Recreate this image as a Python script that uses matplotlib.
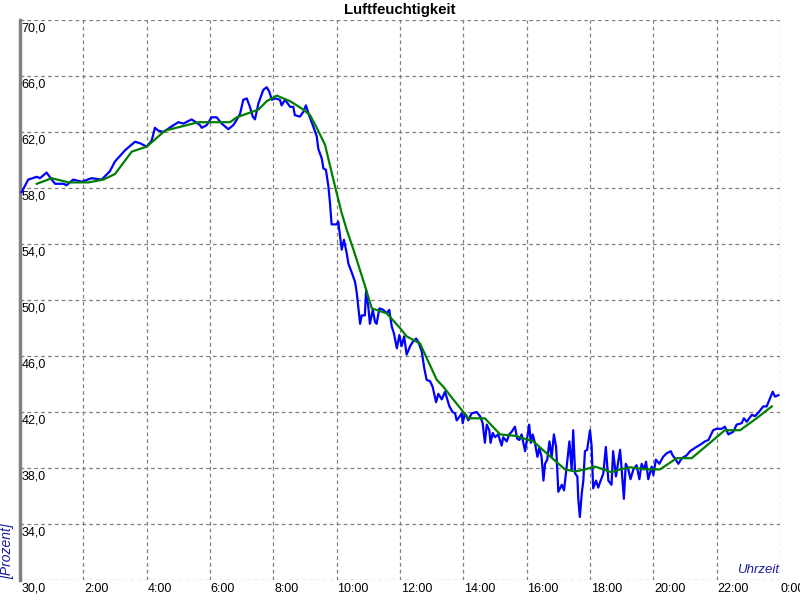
import matplotlib
matplotlib.use("Agg")
import matplotlib.pyplot as plt

title = "Luftfeuchtigkeit"
y_label = "[Prozent]"
x_label = "Uhrzeit"
y_ticks = [30, 34, 38, 42, 46, 50, 54, 58, 62, 66, 70]
x_ticks = [2, 4, 6, 8, 10, 12, 14, 16, 18, 20, 22, 24]
x_ticklabels = ["2:00", "4:00", "6:00", "8:00", "10:00", "12:00", "14:00",
                "16:00", "18:00", "20:00", "22:00", "0:00"]

# measured humidity (hours, percent)
raw_t = [0.05, 0.26, 0.53, 0.63, 0.84, 1.00, 1.11, 1.37, 1.47, 1.68, 1.95, 2.26, 2.58, 2.84, 3.00,
         3.32, 3.63, 3.79, 4.00, 4.16, 4.26, 4.37, 4.53, 4.79, 5.00, 5.16, 5.42, 5.68, 5.74, 5.90,
         6.05, 6.21, 6.37, 6.58, 6.74, 6.85, 6.95, 7.05, 7.16, 7.26, 7.35, 7.42, 7.53, 7.68, 7.79,
         7.87, 7.95, 8.05, 8.21, 8.26, 8.37, 8.53, 8.63, 8.68, 8.84, 8.95, 9.03, 9.07, 9.16, 9.26,
         9.37, 9.42, 9.53, 9.58, 9.66, 9.74, 9.79, 9.84, 10.00, 10.05, 10.16, 10.23, 10.32, 10.37,
         10.47, 10.58, 10.63, 10.74, 10.79, 10.89, 10.93, 11.00, 11.05, 11.14, 11.21, 11.26, 11.35,
         11.47, 11.58, 11.66, 11.74, 11.81, 11.90, 11.98, 12.05, 12.13, 12.21, 12.32, 12.40, 12.51,
         12.58, 12.69, 12.76, 12.84, 12.95, 13.03, 13.14, 13.21, 13.32, 13.42, 13.56, 13.66, 13.74,
         13.79, 13.89, 13.95, 13.98, 14.05, 14.16, 14.26, 14.42, 14.53, 14.61, 14.68, 14.74, 14.82,
         14.86, 14.93, 15.00, 15.10, 15.21, 15.26, 15.37, 15.45, 15.53, 15.63, 15.70, 15.77, 15.84,
         15.95, 16.00, 16.08, 16.13, 16.19, 16.26, 16.34, 16.40, 16.47, 16.53, 16.58, 16.65, 16.72,
         16.79, 16.86, 16.93, 17.00, 17.11, 17.18, 17.24, 17.28, 17.35, 17.42, 17.47, 17.53, 17.60,
         17.63, 17.68, 17.74, 17.79, 17.84, 17.91, 18.00, 18.05, 18.10, 18.19, 18.26, 18.32, 18.42,
         18.50, 18.58, 18.68, 18.73, 18.82, 18.95, 19.00, 19.07, 19.13, 19.21, 19.28, 19.37, 19.47,
         19.56, 19.63, 19.71, 19.77, 19.84, 19.95, 20.00, 20.08, 20.19, 20.31, 20.42, 20.55, 20.61,
         20.68, 20.79, 20.90, 21.05, 21.16, 21.32, 21.47, 21.63, 21.74, 21.89, 22.00, 22.16, 22.26,
         22.37, 22.53, 22.63, 22.79, 22.86, 22.95, 23.11, 23.21, 23.37, 23.47, 23.58, 23.68, 23.77,
         23.84, 23.95]
raw_v = [57.7, 58.6, 58.8, 58.7, 59.1, 58.6, 58.3, 58.3, 58.2, 58.6, 58.45, 58.7, 58.6, 59.2, 59.9,
         60.7, 61.3, 61.2, 60.95, 61.4, 62.3, 62.1, 62.0, 62.4, 62.7, 62.6, 62.9, 62.5, 62.3, 62.5,
         63.05, 63.05, 62.6, 62.2, 62.5, 62.9, 63.3, 64.3, 64.4, 63.8, 63.1, 62.9, 64.05, 65.0, 65.2,
         64.9, 64.3, 64.4, 64.3, 63.9, 64.3, 63.8, 63.8, 63.2, 63.1, 63.45, 63.9, 63.6, 63.0, 62.4,
         61.7, 60.8, 60.1, 59.4, 59.3, 58.1, 56.9, 55.4, 55.4, 55.6, 53.6, 54.3, 53.3, 52.6,
         52.0, 51.3, 50.6, 48.3, 48.9, 48.9, 50.7, 49.5, 48.3, 49.3, 48.45, 48.3, 49.4,
         49.3, 49.05, 49.3, 48.1, 47.6, 46.55, 47.5, 46.7, 47.4, 46.1, 46.7, 47.0, 47.25,
         47.0, 46.3, 45.2, 44.3, 44.2, 43.8, 42.7, 43.3, 42.9, 43.45, 42.4, 42.0, 41.9,
         41.4, 41.7, 41.9, 41.2, 41.9, 41.4, 41.9, 42.0, 41.7, 41.2, 39.8, 41.1, 40.7,
         39.8, 40.5, 40.2, 40.4, 39.6, 40.2, 39.9, 40.4, 40.6, 40.95, 40.1, 40.0, 40.4,
         39.2, 39.9, 41.1, 39.8, 40.4, 39.8, 38.8, 39.45, 38.8, 37.1, 38.3, 38.6, 39.9,
         38.8, 40.4, 39.5, 36.3, 36.8, 36.4, 37.6, 38.45, 39.9, 37.9, 40.7, 37.6, 37.4,
         35.8, 34.5, 36.2, 37.1, 39.2, 39.3, 40.7, 39.6, 36.55, 37.1, 36.6, 37.0, 37.6,
         39.5, 37.1, 36.8, 39.2, 37.4, 39.3, 37.9, 35.8, 38.3, 37.9, 37.2, 37.9, 38.2,
         37.2, 38.3, 37.9, 38.45, 37.2, 38.1, 37.5, 38.6, 38.3, 38.8, 39.05, 39.2, 38.9,
         38.7, 38.3, 38.7, 38.9, 39.2, 39.45, 39.65, 39.9, 40.0, 40.7, 40.8, 40.8, 40.95,
         40.4, 40.6, 41.1, 41.2, 41.55, 41.3, 41.8, 41.7, 42.1, 42.4, 42.4, 42.96, 43.45,
         43.1, 43.2]

# smoothed humidity (hours, percent)
smooth_t = [0.53, 1.00, 1.53, 2.16, 2.63, 3.00, 3.53, 4.00, 4.58, 5.11, 5.63, 6.63, 6.85, 7.53,
            7.79, 8.11, 8.53, 8.95, 9.16, 9.37, 9.63, 9.79, 9.95, 10.16, 10.32, 10.53, 10.84,
            11.11, 11.58, 12.00, 12.21, 12.63, 13.16, 13.37, 13.68, 14.00, 14.16, 14.68, 15.16,
            15.63, 16.21, 16.63, 17.21, 17.53, 17.84, 18.16, 18.68, 18.95, 19.26, 19.79, 20.21,
            20.74, 21.21, 21.79, 22.26, 22.74, 23.26, 23.74]
smooth_v = [58.3, 58.7, 58.4, 58.4, 58.6, 59.0, 60.6, 60.95, 62.1, 62.4, 62.7, 62.7, 63.05, 63.6,
            64.2, 64.6, 64.2, 63.6, 63.2, 62.3, 61.1, 59.6, 58.1, 56.2, 55.0, 53.6, 51.4,
            49.4, 49.05, 48.0, 47.4, 46.9, 44.3, 43.8, 42.9, 42.0, 41.55, 41.55, 40.4,
            40.3, 39.9, 39.05, 37.9, 37.75, 37.9, 38.1, 37.7, 37.9, 38.05, 37.9, 37.9,
            38.7, 38.7, 39.8, 40.7, 40.7, 41.55, 42.4]

plt.rcParams['font.family'] = ['Liberation Sans', 'DejaVu Sans']

fig = plt.figure(figsize=(8, 6), dpi=100)
ax = fig.add_axes([20 / 800, 20 / 600, 760 / 800, 560 / 600])
ax.set_xlim(0, 24)
ax.set_ylim(30, 70)

ax.plot(raw_t, raw_v, color='#0000FF', linewidth=1.6, zorder=3)
ax.plot(smooth_t, smooth_v, color='#008000', linewidth=1.6, zorder=4)

ax.set_xticks([0] + x_ticks)
ax.set_yticks(y_ticks)
ax.tick_params(length=0, labelbottom=False, labelleft=False)
ax.grid(True, color='#808080', linestyle=(0, (3, 2.5)), linewidth=0.9)
for s in ['top', 'right', 'bottom']:
    ax.spines[s].set_visible(False)
ax.spines['left'].set_color('#808080')
ax.spines['left'].set_linewidth(2.5)

# y tick labels inside the plot, under each gridline
for v in y_ticks:
    if v == 30:
        continue
    ax.annotate(f"{v},0", xy=(0, v), xycoords=('axes fraction', 'data'),
                xytext=(1, -2), textcoords='offset points',
                ha='left', va='top', fontsize=9, color='black')
ax.annotate("30,0", xy=(0, 30), xycoords=('axes fraction', 'data'),
            xytext=(1, -2), textcoords='offset points',
            ha='left', va='top', fontsize=9, color='black', annotation_clip=False)

for t, lab in zip(x_ticks, x_ticklabels):
    ax.annotate(lab, xy=(t, 0), xycoords=('data', 'axes fraction'),
                xytext=(0.5, -2), textcoords='offset points',
                ha='left', va='top', fontsize=9, color='black', annotation_clip=False)

fig.text(0.5, 1 - 10 / 600, title, ha='center', va='center', fontsize=10.8, fontweight='bold')

ax.annotate(y_label, xy=(0, 0), xycoords='axes fraction', xytext=(-4, 1),
            textcoords='offset points', rotation=90, ha='right', va='bottom',
            fontsize=10, style='italic', color='#1a1aa0', annotation_clip=False)
ax.annotate(x_label, xy=(1, 0), xycoords='axes fraction', xytext=(-1, 3),
            textcoords='offset points', ha='right', va='bottom',
            fontsize=9.5, style='italic', color='#1a1aa0', annotation_clip=False)

fig.savefig("out.png", dpi=100)
